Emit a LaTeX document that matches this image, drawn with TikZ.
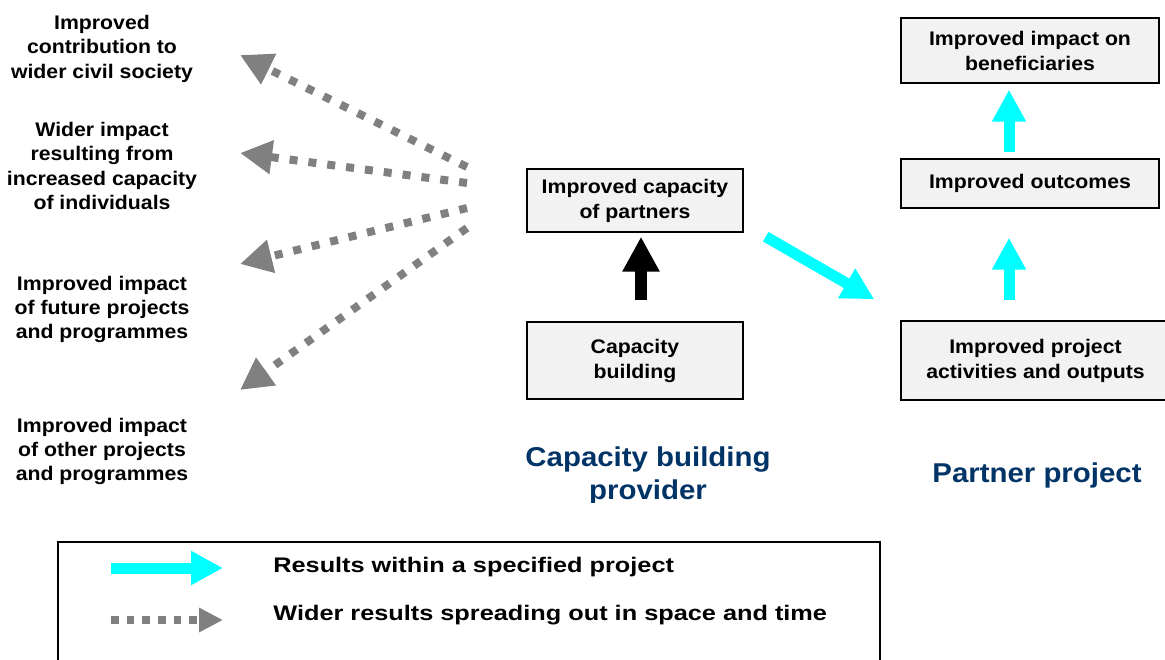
\documentclass[tikz,border=0pt]{standalone}
\usepackage{fontspec}
\setmainfont[FakeStretch=1.08]{Liberation Sans}
\newfontfamily\legfont[FakeStretch=1.2]{Liberation Sans}
\usepackage{xcolor}
\usepackage{tikz}
\usetikzlibrary{positioning, calc, arrows.meta}
\definecolor{boxgrey}{RGB}{242,242,242}
\definecolor{arrowcyan}{RGB}{0,255,255}
\definecolor{dotgrey}{RGB}{128,128,128}
\definecolor{titleblue}{RGB}{0,51,102}

\begin{document}
\begin{tikzpicture}[x=0.02cm, y=-0.02cm]
		\useasboundingbox (0,0) rectangle (1165,659);
		
		\tikzstyle{resbox}=[draw=black, line width=0.8pt, fill=boxgrey, text=black, align=center, inner sep=0pt, font=\bfseries\fontsize{11.2}{14.2}\selectfont]
		\tikzstyle{sidetext}=[align=center, inner sep=0pt, text=black, font=\bfseries\fontsize{11.2}{13.9}\selectfont]
		\tikzstyle{headtext}=[align=center, inner sep=0pt, text=titleblue, font=\bfseries\fontsize{15.5}{18.9}\selectfont]
		\tikzstyle{legtext}=[anchor=base west, inner sep=0pt, text=black, font=\legfont\bfseries\fontsize{12}{14}\selectfont]
		
		\tikzstyle{cyanarrow}=[arrowcyan, line width=0.22cm, -{Triangle[length=0.64cm, width=0.64cm]}]
		\tikzstyle{blackarrow}=[black, line width=0.24cm, -{Triangle[length=0.7cm, width=0.7cm]}]
		\tikzstyle{dotarrow}=[dotgrey, line width=0.16cm, dash pattern=on 0.16cm off 0.22cm, -{Triangle[length=0.64cm, width=0.64cm]}]
		
		%%	capacity building provider
		\node [resbox, minimum width=4.32cm, minimum height=1.54cm] (CB) at (635,360.5) {Capacity\\building};
		\node [resbox, minimum width=4.32cm, minimum height=1.26cm] (IC) at (635,200.5) {Improved capacity\\of partners};
		\draw [blackarrow] ([shift={(6,-21)}]CB.north) -- ([shift={(6,4)}]IC.south);
		
		%%	partner project
		\node [resbox, minimum width=5.16cm, minimum height=1.3cm] (IB) at (1030,50.5) {Improved impact on\\beneficiaries};
		\node [resbox, minimum width=5.16cm, minimum height=0.98cm] (IO) at (1030,183.5) {Improved outcomes};
		\node [resbox, minimum width=5.38cm, minimum height=1.58cm] (PA) at (1035.5,360.5) {Improved project\\activities and outputs};
		\draw [cyanarrow] ([shift={(-26.5,-20)}]PA.north) -- ([shift={(-21,29)}]IO.south);
		\draw [cyanarrow] ([shift={(-21,-6)}]IO.north) -- ([shift={(-21,6)}]IB.south);
		\draw [cyanarrow] ([shift={(22,4)}]IC.south east) -- ([shift={(-26,-21)}]PA.north west);
		
		%%	wider results
		\node [sidetext] (L1) at (102,48.5) {Improved\\contribution to\\wider civil society};
		\node [sidetext] (L2) at (102,166) {Wider impact\\resulting from\\increased capacity\\of individuals};
		\node [sidetext] (L3) at (102,309.5) {Improved impact\\of future projects\\and programmes};
		\node [sidetext] (L4) at (102,451.5) {Improved impact\\of other projects\\and programmes};
		\foreach \n/\sy/\ex/\ey in {1/167/240/55, 2/183/240/153, 3/208/240/264, 4/228/240/390}
		{
			\coordinate (s\n) at (467,\sy);
			\coordinate (e\n) at (\ex,\ey);
			\draw [dotarrow] (s\n) -- (e\n);
		}
		
		%%	titles
		\begin{scope}
			\clip (450,420) rectangle (850,502);
			\node [headtext, anchor=north] (CBP) at (648,446) {Capacity building\\provider};
		\end{scope}
		\node [headtext, anchor=base] (PP) at (1037,482) {Partner project};
		
		%%	legend
		\node [draw=black, line width=0.8pt, minimum width=16.44cm, minimum height=3.16cm, inner sep=0pt] (LEG) at (469,621) {};
		\coordinate (c1) at (111,568);
		\coordinate (c2) at (223,568);
		\draw [cyanarrow] (c1) -- (c2);
		\coordinate (g1) at (111,620);
		\coordinate (g2) at (223,620);
		\draw [dotarrow, line width=0.154cm, dash pattern=on 0.15cm off 0.164cm, -{Triangle[length=0.48cm, width=0.46cm]}] (g1) -- (g2);
		\node [legtext] (R1) at (273,572) {Results within a specified project};
		\node [legtext] (R2) at (273,620) {Wider results spreading out in space and time};
\end{tikzpicture}
\end{document}
